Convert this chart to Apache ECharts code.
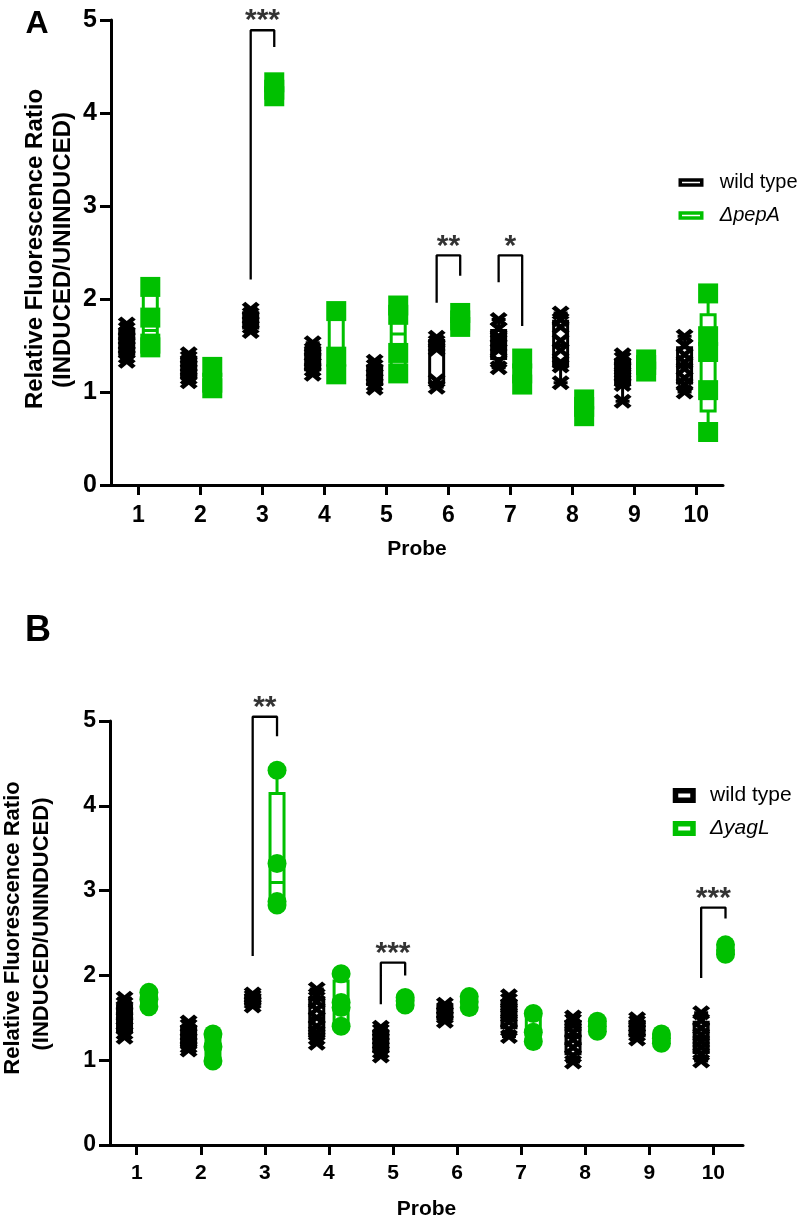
<!DOCTYPE html>
<html><head><meta charset="utf-8">
<script src="https://cdn.jsdelivr.net/npm/echarts@6/dist/echarts.min.js"></script>
<style>html,body{margin:0;padding:0;background:#fff}#c{width:800px;height:1223px}</style>
</head><body><div id="c"></div>
<script>
const probes = [1,2,3,4,5,6,7,8,9,10];
const yTicks = [0,1,2,3,4,5];

// Panel A — wild type vs ΔpepA (one list of replicate ratios per probe)
const wildTypeA = [
  [1.33,1.38,1.43,1.48,1.52,1.57,1.63,1.68,1.73],
  [1.11,1.15,1.19,1.23,1.28,1.33,1.37,1.41],
  [1.65,1.70,1.75,1.80,1.84,1.89],
  [1.19,1.24,1.30,1.35,1.40,1.46,1.53],
  [1.04,1.08,1.13,1.18,1.23,1.28,1.33],
  [1.05,1.12,1.46,1.50,1.54,1.59],
  [1.26,1.33,1.45,1.50,1.55,1.60,1.68,1.78],
  [1.10,1.28,1.32,1.45,1.55,1.70,1.78,1.85],
  [0.90,1.08,1.12,1.18,1.25,1.30,1.36,1.40],
  [1.00,1.08,1.15,1.25,1.32,1.40,1.50,1.60]
];
const pepA = [
  [1.48,1.52,1.80,2.13],
  [1.04,1.10,1.27],
  [4.18,4.25,4.33],
  [1.19,1.38,1.87],
  [1.20,1.42,1.83,1.93],
  [1.70,1.77,1.85],
  [1.08,1.20,1.36],
  [0.74,0.84,0.92],
  [1.22,1.29,1.35],
  [0.57,1.02,1.43,1.60,2.06]
];
// Panel B — wild type vs ΔyagL
const wildTypeB = [
  [1.27,1.32,1.38,1.43,1.49,1.55,1.61,1.67,1.73],
  [1.12,1.16,1.20,1.25,1.30,1.35,1.41,1.45],
  [1.64,1.68,1.72,1.75,1.78],
  [1.20,1.26,1.33,1.40,1.50,1.60,1.69,1.77,1.84],
  [1.05,1.10,1.15,1.20,1.25,1.30,1.35,1.39],
  [1.46,1.51,1.56,1.61,1.66],
  [1.28,1.36,1.45,1.52,1.58,1.65,1.71,1.76],
  [0.98,1.05,1.15,1.24,1.33,1.41,1.47,1.51],
  [1.25,1.30,1.35,1.40,1.45,1.49],
  [0.99,1.07,1.15,1.22,1.30,1.38,1.47,1.56]
];
const yagL = [
  [1.63,1.72,1.80],
  [0.99,1.16,1.31],
  [2.83,2.87,3.32,4.42],
  [1.40,1.62,1.68,2.02],
  [1.65,1.70,1.74],
  [1.62,1.69,1.75],
  [1.22,1.33,1.55],
  [1.34,1.40,1.46],
  [1.20,1.26,1.31],
  [2.25,2.30,2.36]
];

// significance brackets
const sigProbeA = [3,6,7];
const sigTopA   = [4.89,2.47,2.47];
const sigLeftA  = [2.21,1.96,2.18];
const sigRightA = [4.71,2.25,1.71];
const sigStarsA = ['***','**','*'];

const sigProbeB = [3,5,10];
const sigTopB   = [5.05,2.15,2.80];
const sigLeftB  = [2.23,1.66,1.97];
const sigRightB = [4.82,2.00,2.67];
const sigStarsB = ['**','***','***'];

const GREEN = '#00c000';
const FONT = '"Liberation Sans", Arial, Helvetica, sans-serif';
const OFF = 0.19;

// quartiles (n+1)p method
function boxStats(vals){
  const s = vals.slice().sort((a,b)=>a-b), n = s.length;
  const q = p => { let pos = Math.min(Math.max((n+1)*p,1),n); const lo = Math.floor(pos), f = pos-lo;
    return lo>=n ? s[n-1] : s[lo-1] + f*(s[lo]-s[lo-1]); };
  return [s[0], q(0.25), q(0.5), q(0.75), s[n-1]];
}
function boxData(groups, off, color){
  return groups.map((g,i)=>({value:[probes[i]+off].concat(boxStats(g)), itemStyle:{borderColor:color}}));
}
function pts(groups, off){
  const out=[]; groups.forEach((g,i)=>g.forEach(v=>out.push([probes[i]+off, v]))); return out;
}
function bracketSeries(idx, probe, top, left, right, stars){
  const list=[];
  probe.forEach((p,i)=>{
    list.push({type:'line', xAxisIndex:idx, yAxisIndex:idx, symbol:'none', clip:false, silent:true, z:4,
      lineStyle:{color:'#000', width:2.3, opacity:1}, animation:false,
      data:[[p-OFF,left[i]],[p-OFF,top[i]],[p+OFF,top[i]],[p+OFF,right[i]]]});
  });
  list.push({type:'scatter', xAxisIndex:idx, yAxisIndex:idx, symbolSize:1, clip:false, silent:true, z:4,
    itemStyle:{color:'rgba(0,0,0,0)'},
    label:{show:true, position:'inside', offset:[0,-9], color:'#000', fontSize:30, fontWeight:'bold', fontFamily:FONT,
      formatter: prm => stars[prm.dataIndex]},
    data: probe.map((p,i)=>[p, top[i]])});
  return list;
}

const CROSS = 'path://M0,2 L2,0 L5,3 L8,0 L10,2 L7,5 L10,8 L8,10 L5,7 L2,10 L0,8 L3,5 Z';

function xAxisCfg(idx, min, max, labelMargin, nameGap, fs){
  return {type:'value', gridIndex:idx, min:min, max:max,
    name:'Probe', nameLocation:'middle', nameGap:nameGap,
    nameTextStyle:{fontSize:21, fontWeight:'bold', fontFamily:FONT, color:'#000'},
    axisLine:{show:true, onZero:false, lineStyle:{color:'#000', width:3}},
    axisTick:{show:true, customValues:probes, length:10, lineStyle:{color:'#000', width:3}},
    axisLabel:{customValues:probes, margin:labelMargin, fontSize:fs, fontWeight:'bold', fontFamily:FONT, color:'#000'},
    splitLine:{show:false}};
}
function yAxisCfg(idx, fs){
  return {type:'value', gridIndex:idx, min:0, max:5, interval:1,
    axisLine:{show:true, lineStyle:{color:'#000', width:3}},
    axisTick:{show:true, customValues:yTicks, length:11, lineStyle:{color:'#000', width:3}},
    axisLabel:{customValues:yTicks, margin:14, fontSize:fs, fontWeight:'bold', fontFamily:FONT, color:'#000'},
    splitLine:{show:false}};
}

function legendCfg(names, colors, left, top, iw, ih, bw, fs, gap, pad){
  return {orient:'vertical', left:left, top:top, padding:0, itemWidth:iw, itemHeight:ih, itemGap:gap,
    icon:'rect', selectedMode:false,
    textStyle:{fontSize:fs, fontFamily:FONT, color:'#000', padding:[0,0,0,pad],
      rich:{i:{fontStyle:'italic', fontSize:fs, fontFamily:FONT, color:'#000'}}},
    formatter: n => n==='wild type' ? n : '{i|'+n+'}',
    data: names.map((n,i)=>({name:n, itemStyle:{color:'#fff', borderColor:colors[i], borderWidth:bw, opacity:1}}))};
}

const series = [
  {type:'boxplot', xAxisIndex:0, yAxisIndex:0, boxWidth:[14,14], z:2, silent:true,
   itemStyle:{color:'#fff', borderColor:'#000', borderWidth:3},
   data: boxData(wildTypeA,-OFF,'#000').concat(boxData(pepA,OFF,GREEN))},
  {type:'scatter', name:'wild type', xAxisIndex:0, yAxisIndex:0, symbol:CROSS, symbolSize:[18,15], z:3,
   itemStyle:{color:'#000', opacity:1}, data: pts(wildTypeA,-OFF)},
  {type:'scatter', name:'ΔpepA', xAxisIndex:0, yAxisIndex:0, symbol:'rect', symbolSize:20, z:3,
   itemStyle:{color:GREEN, opacity:1}, data: pts(pepA,OFF)},
  {type:'boxplot', xAxisIndex:1, yAxisIndex:1, boxWidth:[14,14], z:2, silent:true,
   itemStyle:{color:'#fff', borderColor:'#000', borderWidth:3},
   data: boxData(wildTypeB,-OFF,'#000').concat(boxData(yagL,OFF,GREEN))},
  {type:'scatter', name:'wild type', xAxisIndex:1, yAxisIndex:1, symbol:CROSS, symbolSize:[18,15], z:3,
   itemStyle:{color:'#000', opacity:1}, data: pts(wildTypeB,-OFF)},
  {type:'scatter', name:'ΔyagL', xAxisIndex:1, yAxisIndex:1, symbol:'circle', symbolSize:19, z:3,
   itemStyle:{color:GREEN, opacity:1}, data: pts(yagL,OFF)}
].concat(bracketSeries(0, sigProbeA, sigTopA, sigLeftA, sigRightA, sigStarsA))
 .concat(bracketSeries(1, sigProbeB, sigTopB, sigLeftB, sigRightB, sigStarsB));

function vText(x,y,text,fs){
  return {type:'text', x:x, y:y, rotation:Math.PI/2, silent:true,
    style:{text:text, font:'bold '+fs+'px '+FONT, fill:'#000', textAlign:'center', textVerticalAlign:'middle'}};
}

const chart = echarts.init(document.getElementById('c'), null, {renderer:'canvas'});
chart.setOption({
  animation:false,
  backgroundColor:'#fff',
  grid:[
    {left:111, right:77, top:20, bottom:738},
    {left:110, right:57, top:721, bottom:78}
  ],
  xAxis:[xAxisCfg(0,0.556,10.43,19,54,23), xAxisCfg(1,0.583,10.463,18,54,21)],
  yAxis:[yAxisCfg(0,25), yAxisCfg(1,23)],
  legend:[
    legendCfg(['wild type','ΔpepA'],['#000',GREEN],678.5,172.5,21.5,5,3.5,20,13,13),
    legendCfg(['wild type','ΔyagL'],['#000',GREEN],672.75,785,17.5,9.5,5.5,21,12,12)
  ],
  graphic:[
    {type:'text', x:37, y:24, silent:true, style:{text:'A', font:'bold 32px '+FONT, fill:'#000', textAlign:'center', textVerticalAlign:'middle'}},
    {type:'text', x:38, y:631, silent:true, style:{text:'B', font:'bold 36px '+FONT, fill:'#000', textAlign:'center', textVerticalAlign:'middle'}},
    vText(35,249,'Relative Fluorescence Ratio',24),
    vText(63,250,'(INDUCED/UNINDUCED)',24),
    vText(13,928,'Relative Fluorescence Ratio',22),
    vText(42,924,'(INDUCED/UNINDUCED)',22)
  ],
  series: series
});
</script></body></html>
